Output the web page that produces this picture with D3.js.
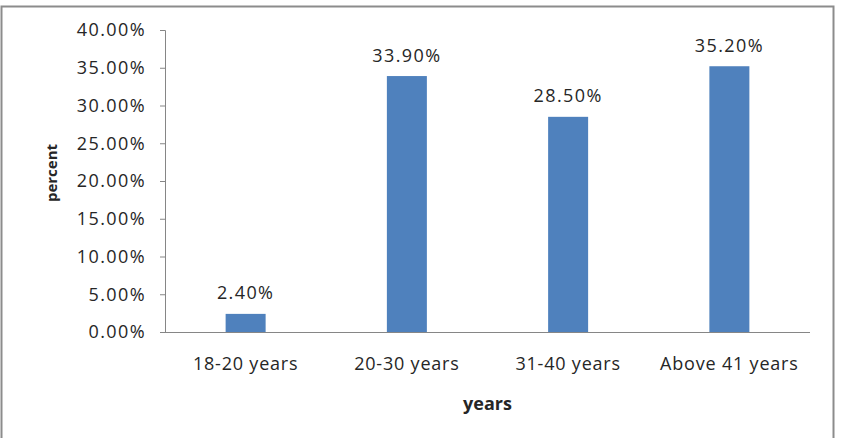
<!DOCTYPE html>
<html>
<head>
<meta charset="utf-8">
<script src="https://cdn.jsdelivr.net/npm/d3@7"></script>
<style>
  body { margin: 0; background: #fff; }
  text { font-family: "Open Sans", Lato, sans-serif; fill: #262626; }
</style>
</head>
<body>
<svg id="chart" width="841" height="438"></svg>
<script>
const categories = ['18-20 years', '20-30 years', '31-40 years', 'Above 41 years'];
const values = [0.024, 0.339, 0.285, 0.352];
const yTicks = [0, 0.05, 0.10, 0.15, 0.20, 0.25, 0.30, 0.35, 0.40];

const svg = d3.select('#chart');
const plotLeft = 165, plotRight = 810, plotTop = 30, plotBottom = 332;
const fontSize = '18px';

// outer frame
svg.append('rect')
    .attr('x', 1.5).attr('y', 6.5)
    .attr('width', 832).attr('height', 440)
    .attr('fill', 'none')
    .attr('stroke', '#8c8c8c')
    .attr('stroke-width', 2);

const x = d3.scaleBand()
    .domain(categories)
    .range([plotLeft, plotRight]);

const y = d3.scaleLinear()
    .domain([0, 0.4])
    .range([plotBottom, plotTop]);

const barW = 40;

// y axis
const yAxis = svg.append('g')
    .attr('transform', `translate(${plotLeft},0)`)
    .call(d3.axisLeft(y).tickValues(yTicks).tickSize(5).tickPadding(14)
        .tickFormat(d => (d * 100).toFixed(2) + '%'));
yAxis.select('.domain').attr('stroke', '#868686');
yAxis.selectAll('.tick line').attr('stroke', '#868686');
yAxis.selectAll('.tick text')
    .style('font-size', fontSize)
    .style('letter-spacing', '1.4px')
    .style('font-family', '"Open Sans", sans-serif')
    .attr('fill', '#262626');

// x axis line
svg.append('line')
    .attr('x1', plotLeft).attr('x2', plotRight)
    .attr('y1', plotBottom + 0.5).attr('y2', plotBottom + 0.5)
    .attr('stroke', '#868686');

// bars
svg.append('g')
    .selectAll('rect')
    .data(values)
    .join('rect')
    .attr('x', (d, i) => x(categories[i]) + x.bandwidth() / 2 - barW / 2)
    .attr('y', d => y(d))
    .attr('width', barW)
    .attr('height', d => y(0) - y(d))
    .attr('fill', '#4F81BD');

// value labels
svg.append('g')
    .selectAll('text')
    .data(values)
    .join('text')
    .attr('x', (d, i) => x(categories[i]) + x.bandwidth() / 2)
    .attr('y', d => y(d) - 14.5)
    .attr('text-anchor', 'middle')
    .style('font-size', fontSize)
    .style('letter-spacing', '1.4px')
    .text(d => (d * 100).toFixed(2) + '%');

// category labels
svg.append('g')
    .selectAll('text')
    .data(categories)
    .join('text')
    .attr('x', d => x(d) + x.bandwidth() / 2)
    .attr('y', 370)
    .attr('text-anchor', 'middle')
    .style('font-size', fontSize)
    .style('letter-spacing', '0.8px')
    .text(d => d);

// axis titles
svg.append('text')
    .attr('x', (plotLeft + plotRight) / 2).attr('y', 410)
    .attr('text-anchor', 'middle')
    .style('font-size', '18px')
    .style('font-weight', 'bold')
    .text('years');

svg.append('text')
    .attr('transform', 'translate(57,173) rotate(-90)')
    .attr('text-anchor', 'middle')
    .style('font-size', '15px')
    .style('font-weight', 'bold')
    .text('percent');
</script>
</body>
</html>
